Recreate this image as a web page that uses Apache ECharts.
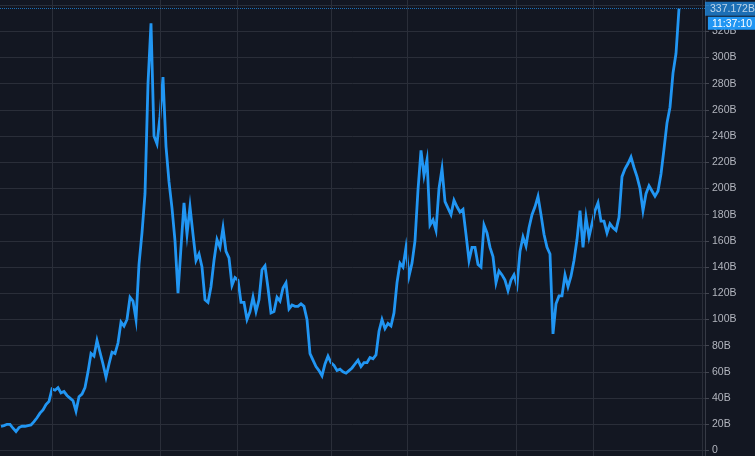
<!DOCTYPE html>
<html>
<head>
<meta charset="utf-8">
<script src="https://cdn.jsdelivr.net/npm/echarts/dist/echarts.min.js"></script>
<style>
html,body{margin:0;padding:0;background:#131722;}
#c{width:755px;height:456px;}
</style>
</head>
<body>
<div id="c"></div>
<script>
// ---- data ----
const startDate = '2017-02-18';
const stepDays = 6;
const marketCapB = [
  18.5,19,20,20,17,14.5,17.5,18.5,18.5,19,
  19.5,22,25,28.5,31,35,37.5,47,46,48,
  44,45,42,40,38,30,41,43,48,60,
  74,72,84,75,66,56,66,75,74,82,
  98,95,100,117,114,100,142,166,196,280,
  326,240,234,255,285,232,205,185,160,120,
  155,189,165,186,165,145,150,140,115,113,
  125,145,161,155,170,152,147,126,132,130,
  113,113,100,106,117,106,115,138,141,124,
  105,106,117,114,124,128,108,111,110,110,
  112,110,100,74,69,64,61,57,66,72,
  67,65,61,62,60,59,61,63,66,69,
  64,67,67,71,70,73,91,100,93,97,
  95,105,128,143,140,155,133,143,160,199,
  229,210,222,172,176,168,200,215,190,185,
  180,191,186,182,184,165,145,155,155,142,
  140,172,166,155,148,128,137,134,130,122,
  130,134,126,152,163,156,170,180,186,194,
  180,165,155,150,89,112,118,118,134,125,
  133,145,161,183,155,178,163,173,183,189,
  175,175,166,173,170,168,178,209,215,219,
  224,216,209,200,183,196,202,198,194,198,
  211,230,250,262,288,303,337.172
];
const gridLineDates = ['2017-05-31','2018-01-02','2018-06-05','2018-12-10','2019-05-11','2019-12-15','2020-05-17','2020-12-21'];
const lastPrice = 337.172;
const countdown = '11:37:10';
const yMin = 0, yMax = 340, yStep = 20;

// ---- helpers ----
const DAY = 86400000;
function toTs(s){ const p = s.split('-').map(Number); return Date.UTC(p[0], p[1]-1, p[2]); }
const t0 = toTs(startDate);
const seriesData = marketCapB.map((v, i) => [t0 + i*stepDays*DAY, v]);
const xMin = t0 - 2*DAY;
const xMax = t0 + 1408*DAY;

const FONT = 'Liberation Sans, Arial, sans-serif';
const GRID_COLOR = '#2a2e39';
const BLUE = '#2196F3';

const chart = echarts.init(document.getElementById('c'), null, {renderer:'canvas'});
chart.setOption({
  animation: false,
  backgroundColor: '#131722',
  grid: [
    {left: 0, right: 50, top: 5, bottom: 5.5},
    {left: 0, right: 50, top: 0, bottom: 0}
  ],
  xAxis: [
    {type: 'time', gridIndex: 0, min: xMin, max: xMax, show: false},
    {type: 'time', gridIndex: 1, min: xMin, max: xMax, show: false}
  ],
  yAxis: [
    {
      type: 'value', gridIndex: 0, position: 'right', min: yMin, max: yMax, interval: yStep,
      axisLine: {show: false},
      axisTick: {show: true, length: 4, lineStyle: {color: '#434651'}},
      splitLine: {show: true, lineStyle: {color: GRID_COLOR, width: 1}},
      axisLabel: {
        color: '#b2b5be', fontSize: 10.5, fontFamily: FONT, margin: 7,
        formatter: v => v === 0 ? '0' : (v >= yMax ? '' : v + 'B')
      }
    },
    {
      type: 'value', gridIndex: 1, position: 'right', min: 0, max: 1,
      axisLine: {show: true, lineStyle: {color: '#363a45', width: 1}},
      axisTick: {show: false}, axisLabel: {show: false}, splitLine: {show: false}
    }
  ],
  series: [
    {
      type: 'line', xAxisIndex: 1, yAxisIndex: 1, z: 1, silent: true,
      data: [[t0, 0.5]], showSymbol: false, lineStyle: {opacity: 0},
      markLine: {
        silent: true, symbol: ['none','none'], animation: false,
        label: {show: false},
        lineStyle: {color: GRID_COLOR, type: 'solid', width: 1},
        data: gridLineDates.map(d => ({xAxis: toTs(d)}))
      }
    },
    {
      type: 'line', xAxisIndex: 0, yAxisIndex: 0, z: 3,
      data: seriesData, showSymbol: false, clip: false,
      lineStyle: {color: BLUE, width: 2.8, join: 'miter'},
      markLine: {
        silent: true, symbol: ['none','none'], animation: false,
        lineStyle: {color: BLUE, type: 'dotted', width: 1, opacity: 0.7},
        label: {
          show: true, position: 'end', distance: 0,
          formatter: lastPrice.toFixed(3) + 'B',
          color: '#ffffff', backgroundColor: BLUE,
          fontSize: 10.5, fontFamily: FONT, lineHeight: 13, padding: [1, 2, 0, 5]
        },
        data: [{yAxis: lastPrice}]
      }
    }
  ]
});

const py = chart.convertToPixel({yAxisIndex: 0}, lastPrice);
chart.setOption({
  graphic: [{
    type: 'text', right: 0, top: py + 8, z: 100,
    style: {
      text: countdown, fill: '#ffffff', backgroundColor: BLUE,
      font: '10.5px ' + FONT, padding: [1, 3, 0, 4], lineHeight: 12
    }
  }]
});
</script>
</body>
</html>
